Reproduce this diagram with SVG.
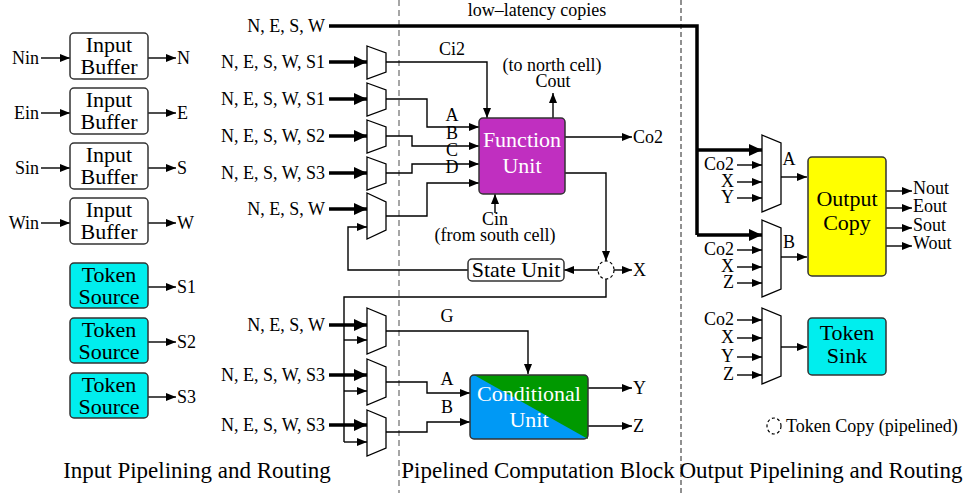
<svg xmlns="http://www.w3.org/2000/svg" width="964" height="493" viewBox="0 0 964 493">
<defs>
<marker id="ah" markerUnits="userSpaceOnUse" markerWidth="11" markerHeight="9" refX="10" refY="4" orient="auto"><path d="M0,0 L10,4 L0,8 z" fill="#000"/></marker>
<marker id="ahT" markerUnits="userSpaceOnUse" markerWidth="14" markerHeight="13" refX="13" refY="6" orient="auto"><path d="M0,0 L13,6 L0,12 z" fill="#000"/></marker>
</defs>
<style>
text{font-family:"Liberation Serif","Times New Roman",serif;fill:#000}
.l{font-size:18px}
.r{text-anchor:end}
.m{text-anchor:middle}
.b{font-size:22px;text-anchor:middle}
.w{fill:#fff}
.box{stroke:#333;stroke-width:1.5}
.mux{fill:#fff;stroke:#000;stroke-width:1.3}
.c{fill:none;stroke:#000;stroke-width:1.4}
.ca{fill:none;stroke:#000;stroke-width:1.4;marker-end:url(#ah)}
.t{fill:none;stroke:#000;stroke-width:3.5}
.ta{fill:none;stroke:#000;stroke-width:3.5;marker-end:url(#ahT)}
.tc{fill:#fff;stroke:#000;stroke-width:1.2;stroke-dasharray:3,2.5}
.sec{font-size:23px;text-anchor:middle}
</style>
<rect width="964" height="493" fill="#fff"/>
<line x1="399" y1="0" x2="399" y2="493" stroke="#777" stroke-width="1.3" stroke-dasharray="6,4"/>
<line x1="681" y1="0" x2="681" y2="493" stroke="#222" stroke-width="1" stroke-dasharray="5,3"/>

<g id="connectors">
<path class="ca" d="M41,58 H70"/><path class="ca" d="M148,58 H176"/>
<path class="ca" d="M41,113 H70"/><path class="ca" d="M148,113 H176"/>
<path class="ca" d="M41,168 H70"/><path class="ca" d="M148,168 H176"/>
<path class="ca" d="M41,223 H70"/><path class="ca" d="M148,223 H176"/>
<path class="ca" d="M148,287 H176"/>
<path class="ca" d="M148,342 H176"/>
<path class="ca" d="M148,397 H176"/>
<path class="t" d="M329,26 H697 V235"/>
<path class="ta" d="M329,62 H367"/>
<path class="ta" d="M329,99 H367"/>
<path class="ta" d="M329,136 H367"/>
<path class="ta" d="M329,173 H367"/>
<path class="ta" d="M329,209 H367"/>
<path class="ca" d="M386,62 H487 V118"/>
<path class="ca" d="M386,99 H427 V127 H479"/>
<path class="ca" d="M386,136 H412 V146 H479"/>
<path class="ca" d="M386,173 H412 V164 H479"/>
<path class="ca" d="M386,216 H427 V183 H479"/>
<path class="ca" d="M553,118 V93"/>
<path class="ca" d="M495,213 V194"/>
<path class="ca" d="M565,137 H632"/>
<path class="ca" d="M565,173 H606 V261"/>
<path class="ca" d="M598,270 H564"/>
<path class="ca" d="M614,270 H632"/>
<path class="ca" d="M468,270 H348 V227 H367"/>
<path class="c" d="M606,279 V297 H344 V442"/>
<path class="ca" d="M344,340 H367"/>
<path class="ca" d="M344,391 H367"/>
<path class="ca" d="M344,442 H367"/>
<path class="ta" d="M329,325 H367"/>
<path class="ta" d="M329,375 H367"/>
<path class="ta" d="M329,425 H367"/>
<path class="ca" d="M386,331 H528 V374"/>
<path class="ca" d="M386,382 H427 V393 H470"/>
<path class="ca" d="M386,432 H427 V422 H470"/>
<path class="ca" d="M588,388 H632"/>
<path class="ca" d="M588,426 H632"/>
<path class="ta" d="M697,150 H762"/>
<path class="ta" d="M697,235 H762"/>
<path class="ca" d="M737,165 H762"/><path class="ca" d="M737,182 H762"/><path class="ca" d="M737,198 H762"/>
<path class="ca" d="M737,250 H762"/><path class="ca" d="M737,267 H762"/><path class="ca" d="M737,283 H762"/>
<path class="ca" d="M737,320 H762"/><path class="ca" d="M737,338 H762"/><path class="ca" d="M737,357 H762"/><path class="ca" d="M737,375 H762"/>
<path class="ca" d="M781,177 H807"/>
<path class="ca" d="M781,257 H807"/>
<path class="ca" d="M781,347 H807"/>
<path class="ca" d="M886,191 H912"/>
<path class="ca" d="M886,208 H912"/>
<path class="ca" d="M886,228 H912"/>
<path class="ca" d="M886,246 H912"/>
</g>

<g id="labels" class="l">
<text class="l r" x="39" y="64">Nin</text><text class="l" x="177" y="64">N</text>
<text class="l r" x="39" y="119">Ein</text><text class="l" x="177" y="119">E</text>
<text class="l r" x="39" y="174">Sin</text><text class="l" x="177" y="174">S</text>
<text class="l r" x="39" y="229">Win</text><text class="l" x="177" y="229">W</text>
<text class="l" x="177" y="293">S1</text>
<text class="l" x="177" y="348">S2</text>
<text class="l" x="177" y="403">S3</text>
<text class="l r" x="325" y="32">N, E, S, W</text>
<text class="l r" x="325" y="68">N, E, S, W, S1</text>
<text class="l r" x="325" y="105">N, E, S, W, S1</text>
<text class="l r" x="325" y="142">N, E, S, W, S2</text>
<text class="l r" x="325" y="179">N, E, S, W, S3</text>
<text class="l r" x="325" y="215">N, E, S, W</text>
<text class="l r" x="325" y="331">N, E, S, W</text>
<text class="l r" x="325" y="381">N, E, S, W, S3</text>
<text class="l r" x="325" y="431">N, E, S, W, S3</text>
<text class="l m" x="537" y="16">low–latency copies</text>
<text class="l m" x="452" y="55">Ci2</text>
<text class="l m" x="552" y="71">(to north cell)</text>
<text class="l m" x="553" y="87">Cout</text>
<text class="l m" x="452" y="121">A</text>
<text class="l m" x="452" y="139">B</text>
<text class="l m" x="452" y="156">C</text>
<text class="l m" x="452" y="173">D</text>
<text class="l" x="633" y="143">Co2</text>
<text class="l m" x="495" y="225">Cin</text>
<text class="l m" x="495" y="241">(from south cell)</text>
<text class="l" x="633" y="276">X</text>
<text class="l m" x="447" y="322">G</text>
<text class="l m" x="447" y="385">A</text>
<text class="l m" x="447" y="413">B</text>
<text class="l" x="633" y="394">Y</text>
<text class="l" x="633" y="432">Z</text>
<text class="l r" x="734" y="170">Co2</text><text class="l r" x="734" y="187">X</text><text class="l r" x="734" y="203">Y</text>
<text class="l r" x="734" y="255">Co2</text><text class="l r" x="734" y="272">X</text><text class="l r" x="734" y="288">Z</text>
<text class="l r" x="734" y="325">Co2</text><text class="l r" x="734" y="343">X</text><text class="l r" x="734" y="362">Y</text><text class="l r" x="734" y="380">Z</text>
<text class="l m" x="789" y="165">A</text>
<text class="l m" x="789" y="248">B</text>
<text class="l" x="913" y="194">Nout</text>
<text class="l" x="913" y="212">Eout</text>
<text class="l" x="913" y="231">Sout</text>
<text class="l" x="913" y="249">Wout</text>
</g>

<g id="input-buffer-n"><rect class="box" x="70" y="33" width="78" height="46" rx="4" fill="#fff"/><text class="b" x="109" y="52">Input</text><text class="b" x="109" y="74">Buffer</text></g>
<g id="input-buffer-e"><rect class="box" x="70" y="88" width="78" height="46" rx="4" fill="#fff"/><text class="b" x="109" y="107">Input</text><text class="b" x="109" y="129">Buffer</text></g>
<g id="input-buffer-s"><rect class="box" x="70" y="143" width="78" height="46" rx="4" fill="#fff"/><text class="b" x="109" y="162">Input</text><text class="b" x="109" y="184">Buffer</text></g>
<g id="input-buffer-w"><rect class="box" x="70" y="198" width="78" height="46" rx="4" fill="#fff"/><text class="b" x="109" y="217">Input</text><text class="b" x="109" y="239">Buffer</text></g>
<g id="token-source-1"><rect class="box" x="70" y="263" width="78" height="45" rx="4" fill="#00EEEE"/><text class="b" x="109" y="282">Token</text><text class="b" x="109" y="304">Source</text></g>
<g id="token-source-2"><rect class="box" x="70" y="318" width="78" height="45" rx="4" fill="#00EEEE"/><text class="b" x="109" y="337">Token</text><text class="b" x="109" y="359">Source</text></g>
<g id="token-source-3"><rect class="box" x="70" y="373" width="78" height="45" rx="4" fill="#00EEEE"/><text class="b" x="109" y="392">Token</text><text class="b" x="109" y="414">Source</text></g>

<g id="mux-ci2"><polygon class="mux" points="367,46 386,53 386,72 367,79"/></g>
<g id="mux-a"><polygon class="mux" points="367,83 386,90 386,109 367,116"/></g>
<g id="mux-b"><polygon class="mux" points="367,120 386,127 386,146 367,153"/></g>
<g id="mux-c"><polygon class="mux" points="367,157 386,164 386,183 367,190"/></g>
<g id="mux-d"><polygon class="mux" points="367,193 386,202 386,230 367,239"/></g>
<g id="mux-g"><polygon class="mux" points="367,308 386,316 386,346 367,354"/></g>
<g id="mux-ca"><polygon class="mux" points="367,359 386,367 386,397 367,405"/></g>
<g id="mux-cb"><polygon class="mux" points="367,410 386,418 386,448 367,456"/></g>

<g id="function-unit"><rect class="box" x="479" y="118" width="86" height="76" rx="4" fill="#C02FC0"/><text class="b w" x="522" y="147">Function</text><text class="b w" x="522" y="173">Unit</text></g>
<g id="token-copy-1"><ellipse class="tc" cx="606" cy="270" rx="8" ry="9"/></g>
<g id="state-unit"><rect class="box" x="468" y="259" width="96" height="22" rx="4" fill="#fff"/><text class="b" x="516" y="277">State Unit</text></g>
<g id="conditional-unit"><rect x="470" y="375" width="118" height="64" rx="4" fill="#0099F5"/><path d="M474,375 H584 Q588,375 588,379 V439 Z" fill="#009900"/><rect class="box" x="470" y="375" width="118" height="64" rx="4" fill="none"/><text class="b w" x="529" y="401">Conditional</text><text class="b w" x="529" y="427">Unit</text></g>

<g id="mux-out-a"><polygon class="mux" points="762,135 781,143 781,204 762,212"/></g>
<g id="mux-out-b"><polygon class="mux" points="762,220 781,228 781,289 762,297"/></g>
<g id="mux-sink"><polygon class="mux" points="762,308 781,316 781,376 762,384"/></g>
<g id="output-copy"><rect class="box" x="808" y="157" width="78" height="119" rx="4" fill="#FFFF00"/><text class="b" x="847" y="206">Output</text><text class="b" x="847" y="230">Copy</text></g>
<g id="token-sink"><rect class="box" x="808" y="318" width="78" height="57" rx="4" fill="#00EEEE"/><text class="b" x="847" y="340">Token</text><text class="b" x="847" y="363">Sink</text></g>

<g id="legend"><ellipse class="tc" cx="774" cy="426" rx="7" ry="8"/><text x="786" y="432" style="font-size:18px">Token Copy (pipelined)</text></g>

<g id="sections">
<text class="sec" x="197" y="478">Input Pipelining and Routing</text>
<text class="sec" x="538" y="478">Pipelined Computation Block</text>
<text class="sec" x="821" y="478">Output Pipelining and Routing</text>
</g>
</svg>
